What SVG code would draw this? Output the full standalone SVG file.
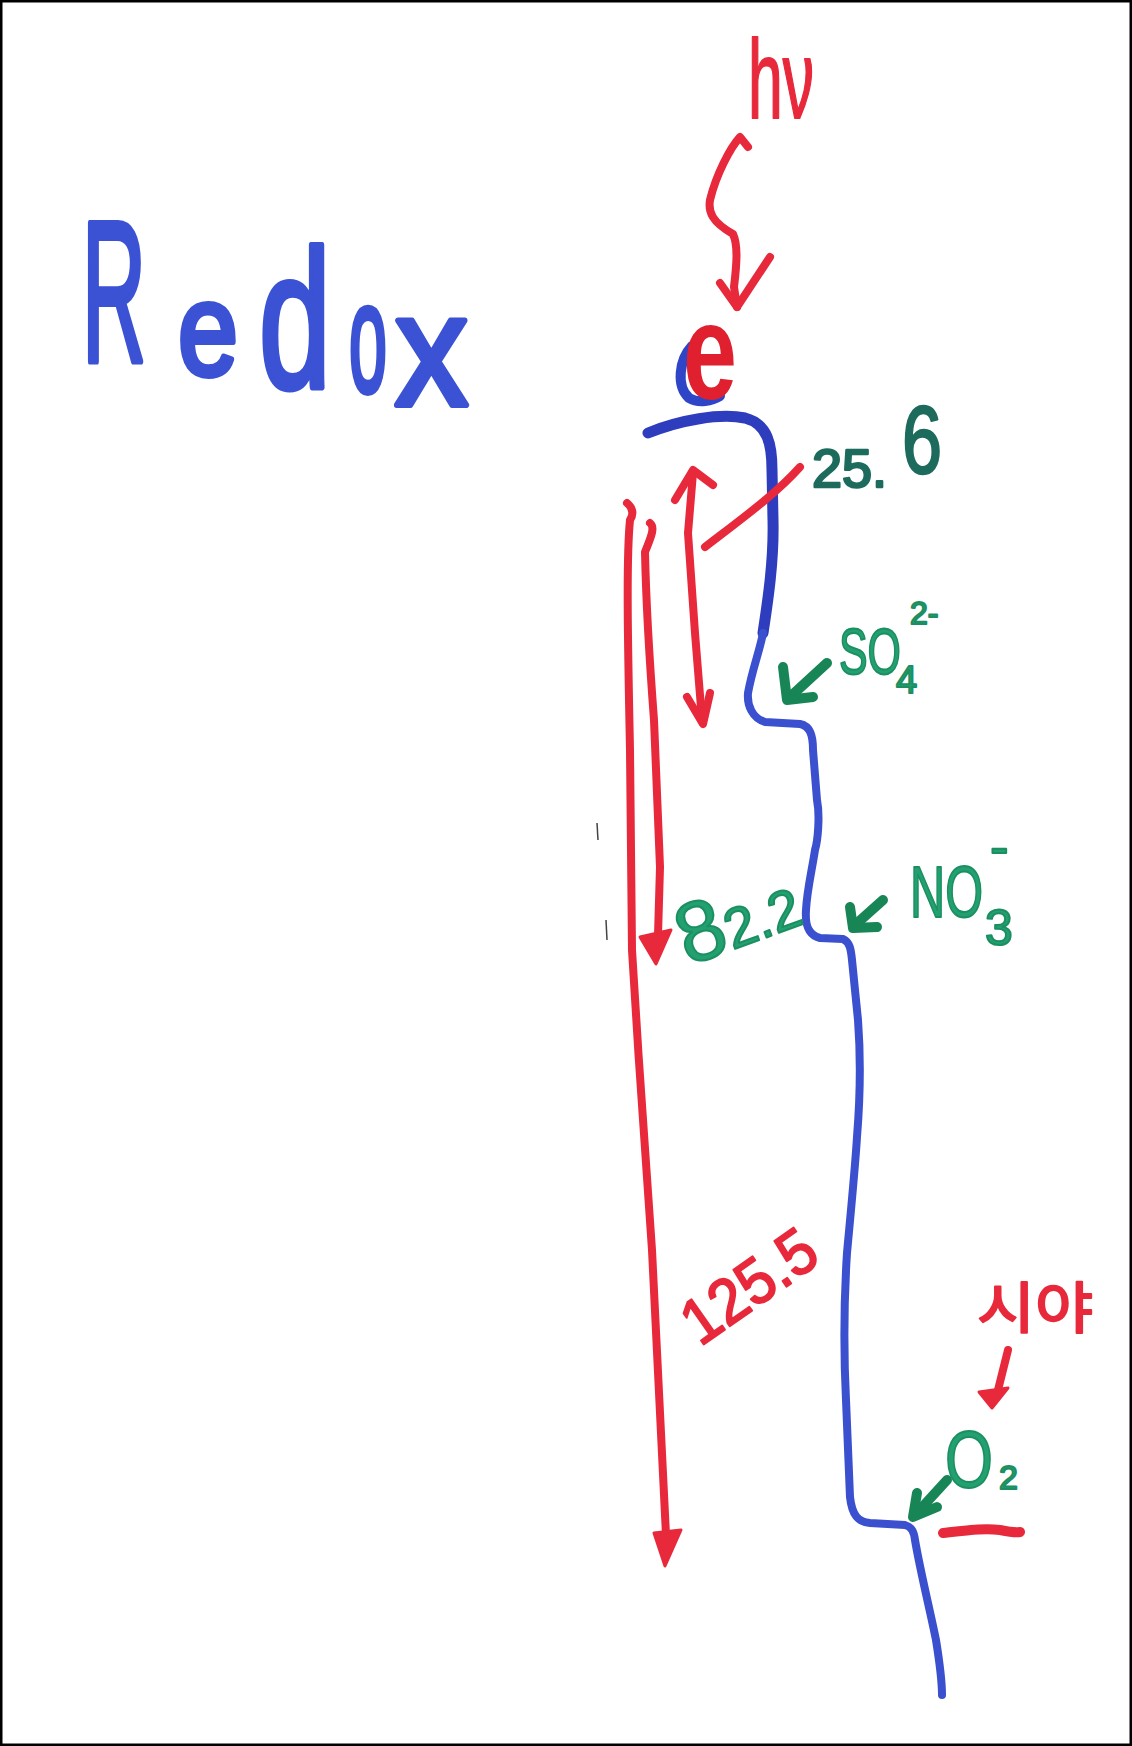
<svg xmlns="http://www.w3.org/2000/svg" width="1132" height="1746" viewBox="0 0 1132 1746">
<style>
.frame{fill:#fff;stroke:#000;stroke-width:2.5}
.red{fill:none;stroke:#e8293b;stroke-width:8;stroke-linecap:round;stroke-linejoin:round}
.redf{fill:#e8293b;stroke:#e8293b;stroke-width:3;stroke-linejoin:round}
.blue{fill:none;stroke:#3a50cf;stroke-width:8;stroke-linecap:round;stroke-linejoin:round}
.blueTop{fill:none;stroke:#2d3dbd;stroke-width:11;stroke-linecap:round;stroke-linejoin:round}
.grn{fill:none;stroke:#178556;stroke-width:10;stroke-linecap:round;stroke-linejoin:round}
.t{font-family:"Liberation Sans","Noto Sans CJK KR",sans-serif;stroke-linejoin:round}
.tb{fill:#3b52d4;stroke:#3b52d4;stroke-width:6}
.tr{fill:#e8293b;stroke:#e8293b;stroke-width:2}
.tg{fill:#22a070;stroke:#1c8f62;stroke-width:2}
.tt{fill:#1d6b5c;stroke:#1d6b5c;stroke-width:2.5}
.mark{stroke:#444;stroke-width:1.5;fill:none}
</style>
<rect class="frame" x="1.25" y="1.25" width="1129.5" height="1743.5"/>
<line class="mark" x1="597" y1="823" x2="598" y2="840"/>
<line class="mark" x1="606" y1="920" x2="607" y2="940"/>

<g id="title">
<text class="t tb"><tspan x="82" y="361" font-size="200" textLength="64" lengthAdjust="spacingAndGlyphs">R</tspan><tspan x="178" y="375" font-size="132" textLength="60" lengthAdjust="spacingAndGlyphs">e</tspan><tspan x="259" y="388" font-size="196" textLength="72" lengthAdjust="spacingAndGlyphs">d</tspan><tspan x="349" y="391" font-size="156" textLength="38" lengthAdjust="spacingAndGlyphs">o</tspan><tspan x="395" y="405" font-size="160" textLength="73" lengthAdjust="spacingAndGlyphs">x</tspan></text>
</g>

<g id="photon">
<text class="t tr" x="748" y="118" font-size="112" textLength="66" lengthAdjust="spacingAndGlyphs">hν</text>
</g>

<g id="electron">
<path d="M692,346 C679,360 676,386 689,398 C699,404 712,401 720,396" fill="none" stroke="#2f45c8" stroke-width="10" stroke-linecap="round"/>
<text class="t" x="683" y="399" font-size="138" font-weight="bold" fill="#e0202e" textLength="54" lengthAdjust="spacingAndGlyphs">e</text>
</g>

<g id="energy-curve">
<path class="blueTop" d="M648,433 C680,420 720,413 745,418 C768,424 772,445 772,470 L773,520 C774,560 768,600 763,633"/>
<path class="blue" d="M763,633 C760,650 752,670 748,693 C747,705 752,718 765,722 L800,724 C810,726 813,735 813,750 L817,800 C820,815 818,840 815,850 C812,870 807,890 806,910 C805,925 808,935 820,938 L843,939 C850,942 851,950 852,960 L858,1020 C861,1060 860,1100 857,1137 C855,1170 850,1220 847,1253 C844,1300 843,1340 846,1400 L850,1497 C852,1515 858,1522 870,1523 L905,1525 C912,1527 914,1532 915,1540 C920,1570 930,1610 936,1640 C940,1665 942,1685 942,1695"/>
</g>

<g id="connectors">
<path class="red" d="M748,147 L740,137 C730,148 716,175 710,200 C708,212 712,222 733,234 C738,245 737,262 734,287 L737,307"/>
<path class="red" d="M720,283 L737,307 L770,257"/>
<path class="red" d="M627,503 C633,508 634,514 630,520 C626,560 628,650 630,750 L632,950 C638,1050 646,1170 652,1250 L666,1535"/>
<polygon class="redf" points="654,1533 681,1530 665,1566"/>
<path class="red" d="M650,523 C655,527 652,535 645,552 C646,600 650,667 654,720 L660,867 L658,935"/>
<polygon class="redf" points="640,937 671,930 656,964"/>
<path class="red" d="M693,473 L688,533 L695,633 L702,720"/>
<path class="red" d="M675,500 L693,470 L713,485"/>
<path class="red" d="M687,697 L703,724 L710,693"/>
<path class="red" d="M705,547 C740,520 775,495 800,467"/>
<path class="grn" d="M827,663 L790,697"/>
<path class="grn" d="M783,667 L787,700 L813,697"/>
<path class="grn" d="M883,900 L855,925"/>
<path class="grn" d="M850,907 L853,928 L877,927"/>
<path class="grn" d="M947,1480 L915,1515"/>
<path class="grn" d="M917,1493 L913,1517 L937,1507"/>
<path class="red" d="M1008,1350 L998,1390"/>
<polygon class="redf" points="979,1392 1008,1388 992,1408"/>
<path class="red" style="stroke-width:10" d="M943,1533 C970,1530 985,1528 1000,1530 C1010,1532 1015,1533 1020,1532"/>
</g>

<g id="label-25-6">
<text class="t tt" x="812" y="487" font-size="54">25.</text>
<text class="t tt" x="902" y="473" font-size="96" textLength="40" lengthAdjust="spacingAndGlyphs">6</text>
</g>

<g id="label-so4">
<text class="t tg" x="839" y="674" font-size="64" textLength="62" lengthAdjust="spacingAndGlyphs">SO</text>
<text class="t tg" x="896" y="693" font-size="38">4</text>
<text class="t tg" x="910" y="624" font-size="32">2-</text>
</g>

<g id="label-82-2">
<text class="t tg" x="688" y="966" transform="rotate(-20 688 966)"><tspan font-size="85">8</tspan><tspan font-size="56">2.2</tspan></text>
</g>

<g id="label-no3">
<text class="t tg" x="910" y="917" font-size="72" textLength="73" lengthAdjust="spacingAndGlyphs">NO</text>
<text class="t tg" x="985" y="945" font-size="50">3</text>
<text class="t tg" x="990" y="866" font-size="56">-</text>
</g>

<g id="label-125-5">
<text class="t tr" x="700" y="1347" font-size="64" transform="rotate(-35 700 1347)" textLength="150" lengthAdjust="spacingAndGlyphs">125.5</text>
</g>

<g id="label-o2">
<text class="t tg" x="945" y="1487" font-size="80" textLength="48" lengthAdjust="spacingAndGlyphs">O</text>
<text class="t tg" x="999" y="1489" font-size="34">2</text>
</g>

<g id="label-red-note">
<text class="t tr" x="977" y="1328" font-size="56" textLength="116" lengthAdjust="spacingAndGlyphs">시야</text>
</g>
</svg>
